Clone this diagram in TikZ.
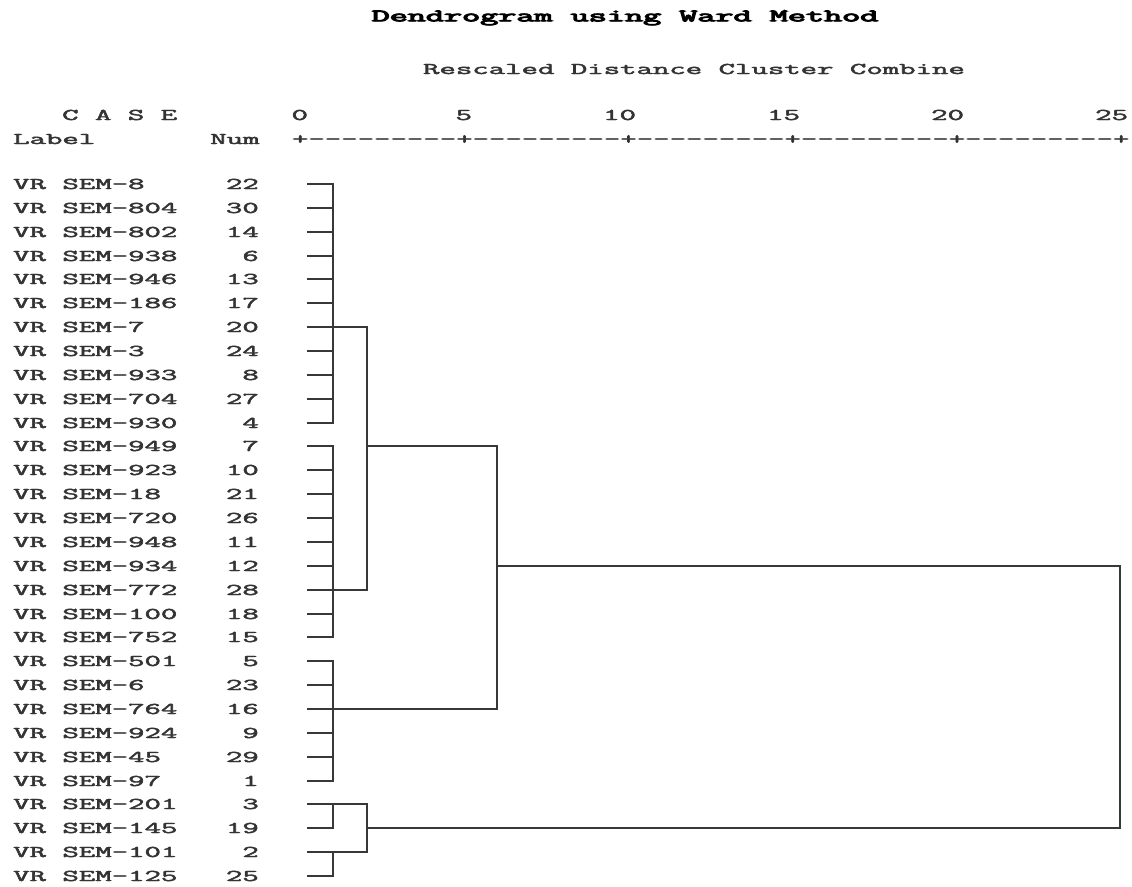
\documentclass[tikz,border=0pt]{standalone}
\usepackage{graphicx}
\newcommand{\sxt}[1]{\special{pdf:literal direct 2 Tr 0.35 w}\scalebox{1.944}[1]{#1}\special{pdf:literal direct 0 Tr 0.4 w}}
\newcommand{\sxtb}[1]{\special{pdf:literal direct 2 Tr 0.8 w}\scalebox{2.008}[1]{#1}\special{pdf:literal direct 0 Tr 0.4 w}}
\begin{document}
\begin{tikzpicture}[x=1pt,y=-1pt,
  txt/.style={inner sep=0pt, font=\ttfamily\fontsize{16.4}{16.4}\selectfont, text=black!80},
  ttl/.style={inner sep=0pt, font=\ttfamily\fontsize{17.5}{17.5}\selectfont, text=black},
  link/.style={line width=2pt, draw=black!78, line cap=rect}]
\useasboundingbox (0,0) rectangle (1132,886);
% titles
\node[ttl] (title) at (625,18) {\sxtb{Dendrogram using Ward Method}};
\node[txt] (sub) at (694,69) {\sxt{Rescaled Distance Cluster Combine}};
% header
\node[txt, anchor=base west] (case) at (62,120) {\sxt{C A S E}};
\node[txt, anchor=base west] (label) at (13,144) {\sxt{Label}};
\node[txt, anchor=base west] (num) at (210,144) {\sxt{Num}};
\node[txt, anchor=base west] (axis) at (291.8,144) {\sxt{+---------+---------+---------+---------+---------+}};
\foreach \t [count=\k from 0] in {0,5,10,15,20,25}{
  \node[txt, anchor=base east] (t\t) at (300+\k*164+8.2,120) {\sxt{\t}};
}
% rows
\foreach \lab/\num [count=\i] in {VR SEM-8/22, VR SEM-804/30, VR SEM-802/14, VR SEM-938/6,
  VR SEM-946/13, VR SEM-186/17, VR SEM-7/20, VR SEM-3/24, VR SEM-933/8, VR SEM-704/27,
  VR SEM-930/4, VR SEM-949/7, VR SEM-923/10, VR SEM-18/21, VR SEM-720/26, VR SEM-948/11,
  VR SEM-934/12, VR SEM-772/28, VR SEM-100/18, VR SEM-752/15, VR SEM-501/5, VR SEM-6/23,
  VR SEM-764/16, VR SEM-924/9, VR SEM-45/29, VR SEM-97/1, VR SEM-201/3, VR SEM-145/19,
  VR SEM-101/2, VR SEM-125/25}{
  \pgfmathsetmacro\yy{round(184+(\i-1)*23.862)}
  \node[txt, anchor=base west] (l\i) at (13,\yy+5) {\sxt{\lab}};
  \node[txt, anchor=base east] (n\i) at (259,\yy+5) {\sxt{\num}};
  \coordinate (c\i) at (308,\yy);
}
% junction columns
\coordinate (jA) at (333,0);
\coordinate (jB) at (367,0);
\coordinate (jC) at (497,0);
\coordinate (jD) at (1120,0);
% leaves
\foreach \i in {1,...,26,28,30}{
  \draw[link] (c\i) -- (c\i -| jA);
}
\draw[link] (c27) -- (c27 -| jB);
\draw[link] (c29) -- (c29 -| jB);
% first-level verticals
\draw[link] (c1 -| jA) -- (c11 -| jA);
\draw[link] (c12 -| jA) -- (c20 -| jA);
\draw[link] (c21 -| jA) -- (c26 -| jA);
\draw[link] (c27 -| jA) -- (c28 -| jA);
\draw[link] (c29 -| jA) -- (c30 -| jA);
% second level
\draw[link] (c7 -| jA) -- (c7 -| jB);
\draw[link] (c18 -| jA) -- (c18 -| jB);
\draw[link] (c7 -| jB) -- (c18 -| jB);
\draw[link] (c27 -| jB) -- (c29 -| jB);
% third level
\draw[link] (c12 -| jB) -- (c12 -| jC);
\draw[link] (c23 -| jA) -- (c23 -| jC);
\draw[link] (c12 -| jC) -- (c23 -| jC);
% top level
\draw[link] (c17 -| jC) -- (c17 -| jD);
\draw[link] (c28 -| jB) -- (c28 -| jD);
\draw[link] (c17 -| jD) -- (c28 -| jD);
\end{tikzpicture}
\end{document}
